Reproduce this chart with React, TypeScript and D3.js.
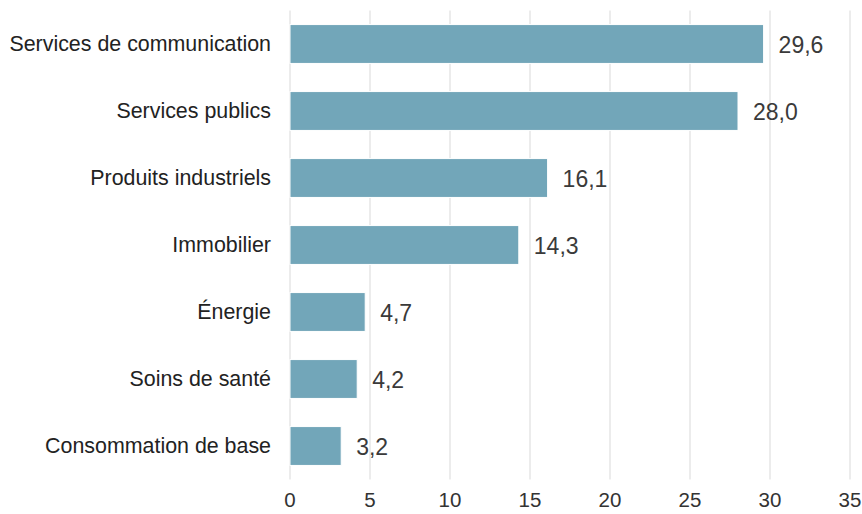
import React from "react";
import * as d3 from "d3";

const categories = [
  "Services de communication",
  "Services publics",
  "Produits industriels",
  "Immobilier",
  "Énergie",
  "Soins de santé",
  "Consommation de base",
];
const values = [29.6, 28.0, 16.1, 14.3, 4.7, 4.2, 3.2];
const xTicks = [0, 5, 10, 15, 20, 25, 30, 35];

const W = 862;
const H = 514;
const M = { left: 290, right: 12, top: 10.5, bottom: 34.5 };

export default function App() {
  const x = d3.scaleLinear().domain([0, 35]).range([M.left, M.left + 560]);
  const y = d3
    .scaleBand<string>()
    .domain(categories)
    .range([M.top, H - M.bottom])
    .paddingInner(0.42)
    .paddingOuter(0.21);
  const fmt = (v: number) => v.toFixed(1).replace(".", ",");
  const font = "'Liberation Sans', Arial, sans-serif";
  return (
    <svg
      width={W}
      height={H}
      style={{ position: "absolute", left: 0, top: 0 }}
      fontFamily={font}
    >
      <rect width={W} height={H} fill="#fff" />
      {xTicks.map((t) => (
        <g key={t}>
          <line
            x1={x(t)}
            x2={x(t)}
            y1={M.top}
            y2={H - M.bottom}
            stroke="#e6e6e6"
            strokeWidth={1.5}
          />
          <text
            x={x(t)}
            y={507}
            textAnchor="middle"
            fontSize={20.5}
            fill="#333"
          >
            {t}
          </text>
        </g>
      ))}
      {categories.map((c, i) => {
        const y0 = y(c)!;
        const bh = y.bandwidth();
        return (
          <g key={c}>
            <rect
              x={x(0)}
              y={y0}
              width={x(values[i]) - x(0)}
              height={bh}
              fill="#72a6b9"
              stroke="#ffffff"
              strokeWidth={1}
            />
            <text
              x={x(values[i]) + 15}
              y={y0 + bh / 2 + 8.5}
              fontSize={23}
              fill="#3a3a3a"
            >
              {fmt(values[i])}
            </text>
            <text
              x={271}
              y={y0 + bh / 2 + 7}
              textAnchor="end"
              fontSize={21.4}
              fill="#222"
            >
              {c}
            </text>
          </g>
        );
      })}
    </svg>
  );
}
